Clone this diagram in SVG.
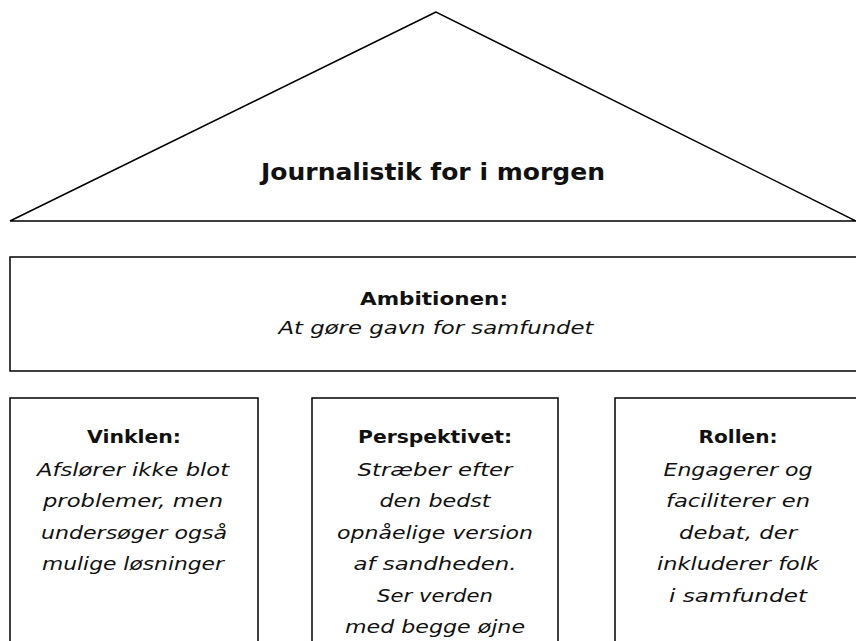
<svg xmlns="http://www.w3.org/2000/svg" width="856" height="641" viewBox="0 0 856 641">
<style>
.s{fill:#fff;stroke:#000;stroke-width:1.5}
text{font-family:"DejaVu Sans","Noto Sans",sans-serif;fill:#111;text-anchor:middle}
.t{font-size:23px;font-weight:bold}
.h{font-size:18px;font-weight:bold}
.i{font-size:18px;font-style:italic}
</style>
<rect width="856" height="641" fill="#fff"/>
<g id="roof">
<polygon class="s" points="436,12 10,221 856,221"/>
<text class="t" x="433" y="180" textLength="344" lengthAdjust="spacingAndGlyphs">Journalistik for i morgen</text>
</g>
<g id="ambition">
<rect class="s" x="10" y="257" width="850" height="114"/>
<text class="h" x="434" y="305" textLength="148" lengthAdjust="spacingAndGlyphs">Ambitionen:</text>
<text class="i" x="436" y="334" textLength="315" lengthAdjust="spacingAndGlyphs">At gøre gavn for samfundet</text>
</g>
<g id="vinklen">
<rect class="s" x="10" y="398" width="248" height="250"/>
<text class="h" x="134" y="443" textLength="94" lengthAdjust="spacingAndGlyphs">Vinklen:</text>
<text class="i" x="133" y="476" textLength="192" lengthAdjust="spacingAndGlyphs">Afslører ikke blot</text>
<text class="i" x="133" y="507" textLength="180" lengthAdjust="spacingAndGlyphs">problemer, men</text>
<text class="i" x="134" y="539" textLength="186" lengthAdjust="spacingAndGlyphs">undersøger også</text>
<text class="i" x="133" y="570" textLength="182" lengthAdjust="spacingAndGlyphs">mulige løsninger</text>
</g>
<g id="perspektivet">
<rect class="s" x="312" y="398" width="246" height="250"/>
<text class="h" x="435" y="443" textLength="154" lengthAdjust="spacingAndGlyphs">Perspektivet:</text>
<text class="i" x="435" y="476" textLength="155" lengthAdjust="spacingAndGlyphs">Stræber efter</text>
<text class="i" x="435" y="507" textLength="111" lengthAdjust="spacingAndGlyphs">den bedst</text>
<text class="i" x="435" y="539" textLength="196" lengthAdjust="spacingAndGlyphs">opnåelige version</text>
<text class="i" x="435" y="570" textLength="163" lengthAdjust="spacingAndGlyphs">af sandheden.</text>
<text class="i" x="435" y="602" textLength="116" lengthAdjust="spacingAndGlyphs">Ser verden</text>
<text class="i" x="435" y="633" textLength="180" lengthAdjust="spacingAndGlyphs">med begge øjne</text>
</g>
<g id="rollen">
<rect class="s" x="615" y="398" width="250" height="250"/>
<text class="h" x="738" y="443" textLength="79" lengthAdjust="spacingAndGlyphs">Rollen:</text>
<text class="i" x="738" y="476" textLength="149" lengthAdjust="spacingAndGlyphs">Engagerer og</text>
<text class="i" x="738" y="507" textLength="144" lengthAdjust="spacingAndGlyphs">faciliterer en</text>
<text class="i" x="738" y="539" textLength="118" lengthAdjust="spacingAndGlyphs">debat, der</text>
<text class="i" x="738" y="570" textLength="162" lengthAdjust="spacingAndGlyphs">inkluderer folk</text>
<text class="i" x="738" y="602" textLength="138" lengthAdjust="spacingAndGlyphs">i samfundet</text>
</g>
<g id="connectors"/>
</svg>
